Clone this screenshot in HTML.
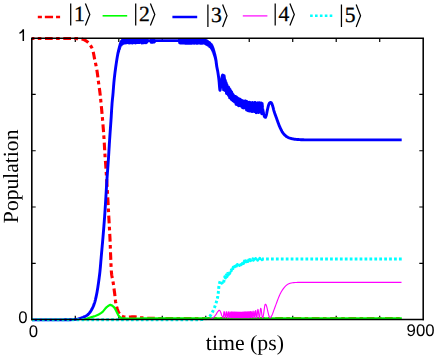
<!DOCTYPE html>
<html><head><meta charset="utf-8"><title>Population</title>
<style>
html,body{margin:0;padding:0;background:#fff;}
body{width:436px;height:358px;overflow:hidden;}
svg{display:block;text-rendering:geometricPrecision;}
.tl text{font-family:"Liberation Sans",sans-serif;}
.kt{font-family:"Liberation Serif",serif;}
.ax{font-family:"Liberation Serif",serif;}

</style></head><body>
<svg width="436" height="358" viewBox="0 0 436 358">
<rect width="436" height="358" fill="#fff"/>
<g fill="none" stroke-linejoin="round">
<path d="M75.29,38.2 v3.9 M75.29,319.55 v-3.9 M118.78,38.2 v3.9 M118.78,319.55 v-3.9 M162.27,38.2 v3.9 M162.27,319.55 v-3.9 M205.76,38.2 v3.9 M205.76,319.55 v-3.9 M249.24,38.2 v3.9 M249.24,319.55 v-3.9 M292.73,38.2 v3.9 M292.73,319.55 v-3.9 M336.22,38.2 v3.9 M336.22,319.55 v-3.9 M379.71,38.2 v3.9 M379.71,319.55 v-3.9 M31.8,94.47 h3.9 M423.2,94.47 h-3.9 M31.8,150.74 h3.9 M423.2,150.74 h-3.9 M31.8,207.01 h3.9 M423.2,207.01 h-3.9 M31.8,263.28 h3.9 M423.2,263.28 h-3.9 " stroke="#000" stroke-width="1.2"/>
<path d="M32.00,38.50 L33.54,38.50 L35.08,38.50 L36.62,38.50 L38.16,38.50 L39.70,38.50 L41.25,38.50 L42.79,38.50 L44.33,38.50 L45.87,38.50 L47.41,38.50 L48.95,38.50 L50.49,38.50 L52.03,38.50 L53.57,38.50 L55.11,38.50 L56.66,38.50 L58.20,38.50 L59.74,38.50 L61.28,38.50 L62.82,38.50 L64.36,38.50 L65.90,38.50 L67.44,38.50 L68.98,38.50 L70.52,38.50 L72.07,38.50 L73.61,38.51 L75.15,38.54 L76.69,38.59 L78.23,38.67 L79.77,38.81 L81.29,39.01 L82.80,39.36 L84.27,39.88 L85.63,40.53 L86.91,41.43 L88.06,42.46 L89.10,43.59 L90.05,44.83 L90.90,46.11 L91.70,47.45 L92.34,48.84 L92.80,50.28 L93.18,51.76 L93.50,53.26 L93.80,54.79 L94.08,56.33 L94.37,57.86 L94.68,59.37 L95.01,60.88 L95.34,62.38 L95.67,63.89 L95.99,65.40 L96.30,66.91 L96.59,68.42 L96.86,69.93 L97.10,71.45 L97.32,72.98 L97.52,74.51 L97.72,76.03 L97.91,77.56 L98.10,79.09 L98.30,80.62 L98.50,82.15 L98.71,83.68 L98.93,85.20 L99.14,86.73 L99.36,88.26 L99.57,89.78 L99.77,91.31 L99.97,92.84 L100.15,94.37 L100.32,95.90 L100.48,97.43 L100.63,98.97 L100.78,100.50 L100.93,102.03 L101.08,103.57 L101.23,105.10 L101.38,106.64 L101.52,108.17 L101.67,109.70 L101.81,111.24 L101.96,112.77 L102.10,114.31 L102.23,115.84 L102.37,117.38 L102.50,118.91 L102.63,120.45 L102.76,121.98 L102.88,123.52 L103.01,125.05 L103.13,126.59 L103.25,128.13 L103.37,129.66 L103.48,131.20 L103.60,132.74 L103.71,134.27 L103.82,135.81 L103.92,137.35 L104.03,138.89 L104.12,140.42 L104.22,141.96 L104.31,143.50 L104.39,145.04 L104.48,146.58 L104.56,148.12 L104.65,149.66 L104.74,151.19 L104.83,152.73 L104.92,154.27 L105.02,155.81 L105.12,157.35 L105.24,158.88 L105.37,160.42 L105.49,161.95 L105.61,163.49 L105.72,165.03 L105.82,166.56 L105.93,168.10 L106.03,169.64 L106.13,171.18 L106.23,172.72 L106.33,174.25 L106.42,175.79 L106.52,177.33 L106.62,178.87 L106.71,180.40 L106.81,181.94 L106.90,183.48 L107.00,185.02 L107.09,186.56 L107.19,188.10 L107.28,189.63 L107.37,191.17 L107.47,192.71 L107.56,194.25 L107.65,195.79 L107.74,197.32 L107.83,198.86 L107.92,200.40 L108.00,201.94 L108.09,203.48 L108.17,205.02 L108.26,206.56 L108.34,208.09 L108.42,209.63 L108.50,211.17 L108.58,212.71 L108.66,214.25 L108.74,215.79 L108.83,217.33 L108.91,218.87 L108.99,220.41 L109.08,221.94 L109.17,223.48 L109.26,225.02 L109.34,226.56 L109.43,228.10 L109.52,229.64 L109.61,231.17 L109.69,232.71 L109.77,234.25 L109.85,235.79 L109.93,237.33 L110.00,238.87 L110.07,240.41 L110.13,241.95 L110.19,243.49 L110.24,245.03 L110.30,246.57 L110.35,248.11 L110.41,249.65 L110.46,251.19 L110.52,252.73 L110.58,254.27 L110.64,255.81 L110.71,257.35 L110.77,258.89 L110.83,260.43 L110.89,261.97 L110.96,263.52 L111.02,265.06 L111.09,266.60 L111.17,268.14 L111.26,269.67 L111.36,271.21 L111.48,272.74 L111.63,274.27 L111.86,275.79 L112.14,277.30 L112.45,278.82 L112.76,280.33 L113.04,281.85 L113.29,283.37 L113.51,284.90 L113.72,286.42 L113.93,287.95 L114.13,289.48 L114.33,291.00 L114.53,292.53 L114.72,294.06 L114.90,295.60 L115.06,297.13 L115.23,298.67 L115.40,300.20 L115.60,301.73 L115.84,303.24 L116.13,304.76 L116.49,306.28 L116.90,307.79 L117.37,309.25 L117.90,310.66 L118.57,312.13 L119.38,313.60 L120.32,314.89 L121.37,315.82 L122.63,316.44 L124.17,316.95 L125.76,317.19 L127.28,317.17 L128.81,317.07 L130.36,316.95 L131.91,316.84 L133.45,316.80 L134.98,316.90 L136.50,317.14 L138.03,317.42 L139.56,317.66 L141.09,317.79 L142.62,317.91 L144.16,318.02 L145.70,318.12 L147.24,318.20 L148.78,318.27 L150.32,318.31 L151.86,318.34 L153.40,318.37 L154.94,318.40 L156.48,318.43 L158.02,318.45 L159.57,318.47 L161.11,318.48 L162.65,318.49 L164.19,318.50 L165.73,318.50 L167.27,318.50 L168.81,318.50 L170.35,318.50 L171.89,318.50 L173.44,318.50 L174.98,318.50 L176.52,318.50 L178.06,318.50 L179.60,318.50 L181.14,318.50 L182.68,318.50 L184.22,318.50 L185.76,318.50 L187.30,318.50 L188.85,318.50 L190.39,318.50 L191.93,318.50 L193.47,318.50 L195.01,318.50 L196.55,318.50 L198.09,318.50 L199.63,318.50 L201.17,318.50 L202.71,318.50 L204.26,318.50 L205.80,318.50 L207.34,318.50 L208.88,318.50 L210.42,318.50 L211.96,318.50 L213.50,318.50 L215.04,318.50 L216.58,318.50 L218.12,318.50 L219.66,318.50 L221.21,318.50 L222.75,318.50 L224.29,318.50 L225.83,318.50 L227.37,318.50 L228.91,318.50 L230.45,318.50 L231.99,318.50 L233.53,318.50 L235.07,318.50 L236.62,318.50 L238.16,318.50 L239.70,318.50 L241.24,318.50 L242.78,318.50 L244.32,318.50 L245.86,318.50 L247.40,318.50 L248.94,318.50 L250.48,318.50 L252.03,318.50 L253.57,318.50 L255.11,318.50 L256.65,318.50 L258.19,318.50 L259.73,318.50 L261.27,318.50 L262.81,318.50 L264.35,318.50 L265.89,318.50 L267.44,318.50 L268.98,318.50 L270.52,318.50 L272.06,318.50 L273.60,318.50 L275.14,318.50 L276.68,318.50 L278.22,318.50 L279.76,318.50 L281.30,318.50 L282.84,318.50 L284.39,318.50 L285.93,318.50 L287.47,318.50 L289.01,318.50 L290.55,318.50 L292.09,318.50 L293.63,318.50 L295.17,318.50 L296.71,318.50 L298.25,318.50 L299.80,318.50 L301.34,318.50 L302.88,318.50 L304.42,318.50 L305.96,318.50 L307.50,318.50 L309.04,318.50 L310.58,318.50 L312.12,318.50 L313.66,318.50 L315.21,318.50 L316.75,318.50 L318.29,318.50 L319.83,318.50 L321.37,318.50 L322.91,318.50 L324.45,318.50 L325.99,318.50 L327.53,318.50 L329.07,318.50 L330.62,318.50 L332.16,318.50 L333.70,318.50 L335.24,318.50 L336.78,318.50 L338.32,318.50 L339.86,318.50 L341.40,318.50 L342.94,318.50 L344.48,318.50 L346.02,318.50 L347.57,318.50 L349.11,318.50 L350.65,318.50 L352.19,318.50 L353.73,318.50 L355.27,318.50 L356.81,318.50 L358.35,318.50 L359.89,318.50 L361.43,318.50 L362.98,318.50 L364.52,318.50 L366.06,318.50 L367.60,318.50 L369.14,318.50 L370.68,318.50 L372.22,318.50 L373.76,318.50 L375.30,318.50 L376.84,318.50 L378.39,318.50 L379.93,318.50 L381.47,318.50 L383.01,318.50 L384.55,318.50 L386.09,318.50 L387.63,318.50 L389.17,318.50 L390.71,318.50 L392.25,318.50 L393.80,318.50 L395.34,318.50 L396.88,318.50 L398.42,318.50 L399.96,318.50 L401.50,318.50" stroke="#f00" stroke-width="3.1" stroke-dasharray="7.7 3.4 3.6 3.6" stroke-dashoffset="5.3"/>
<path d="M32.00,319.85 L33.60,319.85 L35.21,319.85 L36.81,319.85 L38.41,319.85 L40.01,319.85 L41.62,319.85 L43.22,319.85 L44.82,319.85 L46.42,319.85 L48.03,319.85 L49.63,319.85 L51.23,319.85 L52.83,319.85 L54.44,319.85 L56.04,319.85 L57.64,319.85 L59.24,319.85 L60.85,319.85 L62.45,319.84 L64.05,319.82 L65.66,319.80 L67.26,319.77 L68.86,319.73 L70.46,319.69 L72.07,319.61 L73.67,319.49 L75.27,319.34 L76.85,319.15 L78.42,318.83 L79.97,318.39 L81.50,317.88 L83.00,317.33 L84.53,316.70 L85.99,315.97 L87.31,315.14 L88.46,314.14 L89.52,312.90 L90.48,311.55 L91.32,310.19 L92.09,308.80 L92.80,307.35 L93.45,305.87 L94.04,304.36 L94.55,302.85 L95.00,301.32 L95.41,299.78 L95.79,298.21 L96.14,296.64 L96.47,295.06 L96.78,293.49 L97.07,291.92 L97.35,290.34 L97.61,288.76 L97.86,287.17 L98.10,285.59 L98.33,284.00 L98.55,282.41 L98.78,280.83 L98.99,279.24 L99.20,277.65 L99.41,276.06 L99.60,274.47 L99.79,272.88 L99.96,271.28 L100.12,269.69 L100.27,268.10 L100.42,266.50 L100.55,264.90 L100.69,263.31 L100.82,261.71 L100.95,260.11 L101.09,258.51 L101.23,256.92 L101.37,255.32 L101.51,253.72 L101.65,252.13 L101.80,250.53 L101.94,248.94 L102.09,247.34 L102.23,245.74 L102.38,244.15 L102.52,242.55 L102.66,240.95 L102.80,239.36 L102.94,237.76 L103.07,236.16 L103.20,234.57 L103.34,232.97 L103.47,231.37 L103.60,229.78 L103.73,228.18 L103.86,226.58 L103.98,224.98 L104.11,223.38 L104.23,221.79 L104.35,220.19 L104.47,218.59 L104.59,216.99 L104.70,215.39 L104.81,213.80 L104.92,212.20 L105.03,210.60 L105.14,209.00 L105.24,207.40 L105.34,205.80 L105.45,204.20 L105.55,202.60 L105.65,201.00 L105.75,199.40 L105.85,197.80 L105.94,196.20 L106.04,194.60 L106.13,193.00 L106.22,191.40 L106.31,189.80 L106.41,188.20 L106.50,186.60 L106.59,185.00 L106.69,183.40 L106.79,181.80 L106.89,180.20 L107.00,178.61 L107.11,177.01 L107.23,175.41 L107.34,173.81 L107.46,172.21 L107.58,170.61 L107.70,169.02 L107.82,167.42 L107.94,165.82 L108.06,164.22 L108.17,162.62 L108.28,161.02 L108.39,159.42 L108.50,157.82 L108.60,156.23 L108.70,154.63 L108.80,153.03 L108.89,151.43 L108.99,149.83 L109.09,148.23 L109.19,146.63 L109.28,145.03 L109.38,143.43 L109.48,141.83 L109.59,140.23 L109.69,138.63 L109.80,137.03 L109.91,135.43 L110.02,133.83 L110.14,132.24 L110.25,130.64 L110.37,129.04 L110.48,127.44 L110.60,125.84 L110.71,124.24 L110.82,122.64 L110.94,121.05 L111.04,119.45 L111.15,117.85 L111.25,116.25 L111.34,114.65 L111.44,113.05 L111.53,111.45 L111.63,109.85 L111.73,108.25 L111.84,106.65 L111.95,105.05 L112.06,103.45 L112.19,101.85 L112.33,100.26 L112.50,98.66 L112.67,97.07 L112.84,95.48 L112.98,93.88 L113.12,92.28 L113.24,90.69 L113.37,89.09 L113.49,87.49 L113.61,85.89 L113.74,84.29 L113.88,82.70 L114.03,81.10 L114.19,79.51 L114.36,77.92 L114.54,76.32 L114.73,74.73 L114.93,73.14 L115.13,71.55 L115.34,69.96 L115.55,68.37 L115.77,66.78 L115.99,65.20 L116.23,63.61 L116.47,62.03 L116.71,60.44 L116.97,58.86 L117.23,57.28 L117.50,55.70 L117.50,55.51 L117.55,55.63 L117.60,54.87 L117.66,55.03 L117.71,54.27 L117.77,54.54 L117.83,53.66 L117.89,53.99 L117.96,52.94 L118.02,53.42 L118.09,52.37 L118.16,52.85 L118.23,51.74 L118.30,52.35 L118.37,51.06 L118.45,51.84 L118.52,50.33 L118.60,51.37 L118.68,49.76 L118.76,50.90 L118.84,49.22 L118.92,50.19 L119.00,48.48 L119.08,49.64 L119.17,48.00 L119.25,49.26 L119.33,47.25 L119.42,48.87 L119.51,46.55 L119.59,48.24 L119.68,45.95 L119.77,47.62 L119.86,45.46 L119.95,47.08 L120.05,44.56 L120.15,46.57 L120.25,44.03 L120.36,45.99 L120.48,43.19 L120.59,45.59 L120.72,42.81 L120.85,45.51 L120.99,42.09 L121.15,45.12 L121.32,41.39 L121.51,44.71 L121.71,41.14 L121.93,44.12 L122.16,40.47 L122.40,43.93 L122.64,40.25 L122.90,43.54 L123.18,40.21 L123.47,43.23 L123.78,39.92 L124.00,40.25 L124.40,42.86 L124.80,40.08 L125.20,42.99 L125.60,39.91 L126.00,42.70 L126.40,39.88 L126.80,42.75 L127.20,40.25 L127.60,42.57 L128.00,40.18 L128.40,42.54 L128.80,40.30 L129.20,42.98 L129.60,40.20 L130.00,42.75 L130.40,40.14 L130.80,42.91 L131.20,39.86 L131.60,42.33 L132.00,39.72 L132.40,42.96 L132.80,39.67 L133.20,42.67 L133.60,40.26 L134.00,42.38 L134.40,39.65 L134.80,42.66 L135.20,40.23 L135.60,42.92 L136.00,39.87 L136.40,42.67 L136.80,40.08 L137.20,42.55 L137.60,40.18 L138.00,42.26 L138.40,39.69 L138.80,42.59 L139.20,39.95 L139.60,42.48 L140.00,39.79 L140.40,42.25 L140.80,40.08 L141.20,42.25 L141.60,40.27 L142.00,42.98 L142.40,39.86 L142.80,42.56 L143.20,39.96 L143.60,42.91 L144.00,40.10 L144.40,42.69 L144.80,39.84 L145.20,42.51 L145.60,39.97 L146.00,42.82 L146.40,39.67 L146.80,42.35 L147.20,39.65 L147.50,40.70 L150.60,40.70 L150.80,40.35 L151.20,42.24 L151.60,39.72 L152.00,41.76 L152.40,40.02 L152.80,42.29 L153.20,40.34 L153.60,42.14 L154.00,39.73 L154.40,42.05 L155.00,40.60 L179.00,40.60 L179.30,39.77 L179.70,42.88 L180.10,40.14 L180.50,42.98 L180.90,40.15 L181.30,42.97 L181.70,39.61 L182.10,43.13 L182.50,40.04 L182.90,42.92 L183.30,39.61 L183.70,43.04 L184.10,39.59 L184.50,43.09 L184.90,39.91 L185.30,43.35 L185.70,39.76 L186.10,43.13 L186.50,39.98 L186.90,43.34 L187.30,39.99 L187.70,43.37 L188.10,40.23 L188.50,43.03 L188.90,39.91 L189.30,43.39 L189.70,40.10 L190.10,43.29 L190.50,39.80 L190.90,43.23 L191.30,39.83 L191.70,43.41 L192.10,40.04 L192.50,43.00 L192.90,40.13 L193.30,42.76 L193.70,40.13 L194.10,43.37 L194.50,39.69 L194.90,42.80 L195.30,39.85 L195.70,43.06 L196.10,39.86 L196.50,43.19 L196.90,40.06 L197.30,43.40 L197.70,39.95 L198.10,43.16 L198.50,39.83 L198.90,42.85 L199.30,40.23 L199.70,43.01 L200.10,39.74 L200.50,43.30 L200.90,39.76 L201.30,42.80 L201.70,39.64 L202.10,43.29 L202.50,39.66 L202.90,43.09 L203.30,39.63 L203.70,42.76 L204.00,40.06 L204.29,43.01 L204.59,40.09 L204.87,43.32 L205.16,40.32 L205.44,43.71 L205.71,40.63 L205.98,43.95 L206.25,40.80 L206.51,44.27 L206.77,41.17 L207.02,44.37 L207.28,40.97 L207.53,44.84 L207.77,41.39 L208.02,45.26 L208.27,41.86 L208.51,45.34 L208.76,42.23 L209.00,45.60 L209.25,42.45 L209.49,46.48 L209.73,42.79 L209.96,46.34 L210.18,43.47 L210.39,46.90 L210.60,44.02 L210.80,47.51 L211.00,44.08 L211.19,47.81 L211.37,44.53 L211.53,48.57 L211.69,45.44 L211.83,49.06 L211.98,45.53 L212.12,49.26 L212.25,46.24 L212.38,50.05 L212.51,46.77 L212.63,50.26 L212.75,47.37 L212.87,51.05 L212.98,47.92 L213.09,51.63 L213.19,48.81 L213.30,52.08 L213.39,49.17 L213.49,52.66 L213.59,50.12 L213.69,52.77 L213.78,50.52 L213.87,53.37 L213.97,51.19 L214.06,54.20 L214.15,51.89 L214.24,54.43 L214.33,52.48 L214.41,55.11 L214.50,53.24 L214.58,55.54 L214.67,53.86 L214.75,56.17 L214.83,54.24 L214.91,56.61 L214.98,55.03 L215.06,57.20 L215.13,55.70 L215.21,57.65 L215.28,56.29 L215.35,58.26 L215.41,56.99 L215.48,58.88 L215.54,57.48 L215.61,59.31 L215.67,58.23 L215.73,59.98 L215.78,58.83 L215.84,60.38 L215.89,59.45 L215.94,60.93 L215.99,59.89 L216.04,61.54 L216.08,60.64 L216.12,62.23 L216.16,61.19 L216.20,62.67 L216.24,61.85 L216.27,63.38 L216.31,62.48 L216.34,63.92 L216.38,63.15 L216.41,64.49 L216.45,63.64 L216.49,65.08 L216.53,64.28 L216.57,65.58 L216.61,65.00 L216.65,66.17 L216.70,65.51 L216.75,66.69 L216.80,66.20 L216.85,67.30 L216.90,66.76 L216.96,67.90 L217.01,67.46 L217.07,68.37 L217.13,68.01 L217.19,68.97 L217.25,68.64 L217.31,69.56 L217.37,69.25 L217.43,70.09 L217.50,69.89 L217.56,70.60 L217.60,70.60 L217.70,71.19 L217.80,71.79 L217.89,72.38 L217.99,72.97 L218.08,73.57 L218.17,74.16 L218.26,74.76 L218.34,75.35 L218.42,75.94 L218.51,76.54 L218.59,77.13 L218.66,77.73 L218.74,78.33 L218.81,78.92 L218.88,79.52 L218.95,80.11 L219.01,80.71 L219.07,81.31 L219.13,81.91 L219.18,82.50 L219.22,83.10 L219.27,83.70 L219.32,84.30 L219.36,84.90 L219.41,85.50 L219.46,86.10 L219.51,86.70 L219.57,87.29 L219.63,87.89 L219.70,88.49 L219.78,89.21 L219.88,89.94 L219.99,90.30 L220.12,90.02 L220.26,89.32 L220.39,88.58 L220.49,87.99 L220.58,87.40 L220.67,86.80 L220.75,86.21 L220.82,85.61 L220.89,85.01 L220.96,84.42 L221.03,83.82 L221.10,83.22 L221.17,82.62 L221.24,82.03 L221.32,81.43 L221.40,80.84 L221.48,80.24 L221.58,79.65 L221.67,79.06 L221.77,78.46 L221.87,77.86 L221.98,77.26 L222.10,76.67 L222.25,76.10 L222.42,75.54 L222.70,75.00 L223.15,82.00 L223.60,89.80 L223.85,82.00 L224.10,75.60 L224.50,78.60 L224.90,90.55 L225.30,80.34 L225.70,90.77 L226.10,82.43 L226.50,93.49 L226.90,84.56 L227.30,93.56 L227.70,86.51 L228.10,94.69 L228.50,86.88 L228.90,96.02 L229.30,88.53 L229.70,97.92 L230.10,89.47 L230.50,97.90 L230.90,90.88 L231.30,99.32 L231.70,91.96 L232.10,100.03 L232.50,93.59 L232.90,100.73 L233.30,94.63 L233.70,101.20 L234.10,95.97 L234.50,101.98 L234.90,96.47 L235.30,101.67 L235.70,96.71 L236.10,104.35 L236.50,96.94 L236.90,104.63 L237.30,97.80 L237.70,104.43 L238.10,98.72 L238.50,105.75 L238.90,99.00 L239.30,105.18 L239.70,99.01 L240.10,105.63 L240.50,100.27 L240.90,106.08 L241.30,99.88 L241.70,105.61 L242.10,100.40 L242.50,107.66 L242.90,100.90 L243.30,107.98 L243.70,101.14 L244.10,106.87 L244.50,101.97 L244.90,107.60 L245.30,101.06 L245.70,108.34 L246.10,101.23 L246.50,109.94 L246.90,101.53 L247.30,109.40 L247.70,102.52 L248.10,110.78 L248.50,102.37 L248.90,110.33 L249.30,102.18 L249.70,111.06 L250.10,102.46 L250.50,110.14 L250.90,103.08 L251.30,111.05 L251.70,103.48 L252.10,111.62 L252.50,102.49 L252.90,111.32 L253.30,103.18 L253.70,111.33 L254.10,103.00 L254.50,111.64 L254.90,102.49 L255.30,111.81 L255.70,102.70 L256.10,112.70 L256.50,104.65 L256.90,112.22 L257.30,103.14 L257.70,111.61 L258.10,102.71 L258.50,112.60 L258.90,103.37 L259.30,111.64 L259.70,102.76 L260.10,111.58 L260.50,103.41 L260.90,112.23 L261.30,102.91 L261.70,113.72 L262.10,103.47 L262.50,107.50 L262.67,108.70 L262.88,109.90 L263.10,111.10 L263.34,112.28 L263.60,113.47 L263.86,114.70 L264.17,115.88 L264.66,116.97 L265.47,117.30 L266.02,116.09 L266.37,114.96 L266.65,113.78 L266.89,112.58 L267.11,111.36 L267.34,110.15 L267.61,108.96 L267.89,107.77 L268.17,106.57 L268.48,105.40 L268.87,104.27 L269.42,103.12 L270.36,102.44 L271.43,102.92 L271.99,103.92 L272.38,105.13 L272.75,106.29 L273.08,107.46 L273.38,108.64 L273.68,109.82 L274.01,110.99 L274.37,112.14 L274.74,113.30 L275.14,114.44 L275.55,115.59 L275.96,116.73 L276.38,117.87 L276.80,119.01 L277.21,120.16 L277.62,121.30 L278.02,122.45 L278.44,123.60 L278.87,124.73 L279.32,125.86 L279.79,126.97 L280.30,128.07 L280.83,129.19 L281.38,130.30 L281.97,131.38 L282.60,132.42 L283.28,133.39 L284.03,134.30 L284.88,135.20 L285.82,136.04 L286.82,136.76 L287.84,137.31 L288.93,137.77 L290.08,138.18 L291.28,138.53 L292.49,138.82 L293.68,139.03 L294.87,139.19 L296.08,139.34 L297.29,139.46 L298.51,139.56 L299.72,139.64 L300.93,139.69 L302.15,139.75 L303.36,139.80 L304.57,139.84 L305.79,139.87 L307.00,139.89 L308.22,139.90 L309.43,139.90 L310.64,139.90 L311.86,139.90 L313.07,139.90 L314.29,139.90 L315.50,139.90 L316.71,139.90 L317.93,139.90 L319.14,139.90 L320.36,139.90 L321.57,139.90 L322.78,139.90 L324.00,139.90 L325.21,139.90 L326.43,139.90 L327.64,139.90 L328.85,139.90 L330.07,139.90 L331.28,139.90 L332.50,139.90 L333.71,139.90 L334.92,139.90 L336.14,139.90 L337.35,139.90 L338.57,139.90 L339.78,139.90 L341.00,139.90 L342.21,139.90 L343.42,139.90 L344.64,139.90 L345.85,139.90 L347.07,139.90 L348.28,139.90 L349.49,139.90 L350.71,139.90 L351.92,139.90 L353.14,139.90 L354.35,139.90 L355.57,139.90 L356.78,139.90 L357.99,139.90 L359.21,139.90 L360.42,139.90 L361.64,139.90 L362.85,139.90 L364.06,139.90 L365.28,139.90 L366.49,139.90 L367.71,139.90 L368.92,139.90 L370.13,139.90 L371.35,139.90 L372.56,139.90 L373.78,139.90 L374.99,139.90 L376.20,139.90 L377.42,139.90 L378.63,139.90 L379.85,139.90 L381.06,139.90 L382.27,139.90 L383.49,139.90 L384.70,139.90 L385.92,139.90 L387.13,139.90 L388.35,139.90 L389.56,139.90 L390.77,139.90 L391.99,139.90 L393.20,139.90 L394.42,139.90 L395.63,139.90 L396.84,139.90 L398.06,139.90 L399.27,139.90 L400.49,139.90 L401.70,139.90" stroke="#00f" stroke-width="2.9" stroke-linejoin="round"/>
<path d="M32.00,319.85 L33.35,319.85 L34.69,319.85 L36.04,319.85 L37.38,319.85 L38.73,319.85 L40.07,319.85 L41.42,319.85 L42.77,319.85 L44.11,319.85 L45.46,319.85 L46.80,319.85 L48.15,319.85 L49.49,319.85 L50.84,319.85 L52.18,319.85 L53.53,319.85 L54.88,319.85 L56.22,319.85 L57.57,319.85 L58.91,319.85 L60.26,319.85 L61.60,319.85 L62.95,319.85 L64.29,319.85 L65.64,319.85 L66.99,319.85 L68.33,319.85 L69.68,319.85 L71.02,319.85 L72.37,319.85 L73.71,319.85 L75.06,319.85 L76.40,319.85 L77.75,319.85 L79.09,319.85 L80.44,319.85 L81.79,319.85 L83.13,319.85 L84.48,319.85 L85.82,319.85 L87.17,319.85 L88.51,319.85 L89.86,319.85 L91.20,319.85 L92.55,319.85 L93.89,319.85 L95.24,319.85 L96.59,319.85 L97.93,319.85 L99.28,319.85 L100.62,319.85 L101.97,319.85 L103.31,319.85 L104.66,319.85 L106.00,319.85 L107.35,319.85 L108.69,319.85 L110.04,319.85 L111.38,319.85 L112.73,319.85 L114.08,319.85 L115.42,319.85 L116.77,319.85 L118.11,319.85 L119.46,319.85 L120.80,319.85 L122.15,319.85 L123.49,319.85 L124.84,319.85 L126.18,319.85 L127.53,319.85 L128.87,319.85 L130.22,319.85 L131.56,319.85 L132.91,319.85 L134.26,319.85 L135.60,319.85 L136.95,319.85 L138.29,319.85 L139.64,319.85 L140.98,319.85 L142.33,319.85 L143.67,319.85 L145.02,319.85 L146.36,319.85 L147.71,319.85 L149.05,319.85 L150.40,319.85 L151.74,319.85 L153.09,319.85 L154.43,319.85 L155.78,319.85 L157.13,319.85 L158.47,319.85 L159.82,319.85 L161.16,319.85 L162.51,319.85 L163.85,319.85 L165.20,319.85 L166.54,319.85 L167.89,319.85 L169.23,319.85 L170.58,319.85 L171.92,319.85 L173.27,319.85 L174.61,319.85 L175.96,319.85 L177.30,319.85 L178.65,319.85 L179.99,319.85 L181.34,319.85 L182.68,319.85 L184.03,319.85 L185.37,319.85 L186.72,319.85 L188.07,319.85 L189.41,319.85 L190.76,319.85 L192.11,319.84 L193.46,319.83 L194.82,319.81 L196.17,319.79 L197.52,319.76 L198.86,319.72 L200.20,319.67 L201.53,319.62 L202.85,319.52 L204.19,319.23 L205.50,318.81 L206.74,318.31 L207.92,317.72 L209.04,316.91 L210.04,315.98 L210.86,314.99 L211.58,313.85 L212.22,312.63 L212.81,311.40 L213.38,310.18 L213.91,308.95 L214.42,307.70 L214.90,306.43 L215.35,305.16 L215.77,303.89 L216.18,302.61 L216.58,301.32 L216.96,300.02 L217.29,298.72 L217.58,297.41 L217.82,296.09 L218.02,294.76 L218.20,293.42 L218.37,292.08 L218.51,290.74 L218.62,289.40 L218.73,288.06 L218.87,286.72 L219.07,285.39 L219.33,284.07 L219.67,282.75 L220.16,281.18 L220.75,280.69 L221.44,282.02 L222.22,283.39 L222.95,284.39 L223.37,283.64 L223.69,281.99 L224.01,280.63 L224.32,279.32 L224.60,278.00 L224.80,276.84 L225.50,277.89 L226.20,274.98 L226.90,276.60 L227.60,273.46 L228.30,274.93 L229.00,272.29 L229.70,273.46 L230.40,270.12 L231.10,270.95 L231.80,268.64 L232.50,270.13 L233.20,267.25 L233.90,268.64 L234.60,266.46 L235.30,268.11 L236.00,265.70 L236.70,267.54 L237.40,264.51 L238.10,266.14 L238.80,264.08 L239.50,265.42 L240.20,262.82 L240.90,264.74 L241.60,262.10 L242.30,263.95 L243.00,261.67 L243.70,263.38 L244.40,261.12 L245.10,262.33 L245.80,260.78 L246.50,261.79 L247.20,260.06 L247.90,261.45 L248.60,260.08 L249.30,261.07 L250.00,259.51 L250.70,260.58 L251.40,259.33 L252.10,260.25 L252.80,258.94 L253.50,260.19 L254.20,258.79 L254.90,260.00 L255.60,258.60 L256.30,259.84 L257.00,258.40 L257.70,260.08 L258.40,258.51 L259.10,259.83 L259.80,258.31 L260.50,259.71 L261.20,258.30 L261.90,259.70 L262.00,259.10" stroke="#0ff" stroke-width="3" stroke-dasharray="2.7 2.25"/>
<path d="M262.00,259.10 L402.00,259.10" stroke="#0ff" stroke-width="3" stroke-dasharray="2.75 2.172" stroke-dashoffset="0.85"/>
<path d="M84.21,319.35 L85.45,319.10 L86.67,318.74 L87.88,318.30 L89.09,317.89 L90.31,317.52 L91.53,317.16 L92.74,316.78 L93.96,316.38 L95.17,315.97 L96.36,315.52 L97.52,315.01 L98.67,314.44 L99.81,313.82 L100.90,313.15 L101.93,312.42 L102.85,311.60 L103.68,310.64 L104.48,309.62 L105.28,308.60 L106.14,307.66 L107.08,306.79 L108.09,305.99 L109.17,305.32 L110.36,304.90 L111.59,305.30 L112.66,305.94 L113.63,306.83 L114.45,307.79 L115.12,308.83 L115.71,309.95 L116.27,311.13 L116.82,312.30 L117.43,313.43 L118.03,314.61 L118.66,315.76 L119.40,316.70 L120.39,317.54 L121.56,318.21 L122.75,318.41 L123.98,318.44 L125.24,318.47 L126.54,318.48 L127.84,318.49 L129.14,318.50 L130.42,318.50 L131.70,318.50 L132.97,318.50 L134.25,318.49 L135.52,318.49 L136.79,318.49 L138.07,318.48 L139.34,318.48 L140.62,318.47 L141.89,318.47 L143.16,318.46 L144.44,318.45 L145.71,318.45 L146.99,318.44 L148.26,318.43 L149.54,318.43 L150.81,318.42 L152.08,318.42 L153.36,318.41 L154.63,318.41 L155.91,318.41 L157.18,318.40 L158.45,318.40 L159.73,318.40 L161.00,318.40 L162.28,318.40 L163.55,318.40 L164.82,318.40 L166.10,318.40 L167.37,318.40 L168.65,318.40 L169.92,318.40 L171.19,318.40 L172.47,318.40 L173.74,318.40 L175.02,318.40 L176.29,318.40 L177.56,318.40 L178.84,318.40 L180.11,318.40 L181.39,318.40 L182.66,318.40 L183.93,318.40 L185.21,318.40 L186.48,318.40 L187.76,318.40 L189.03,318.40 L190.31,318.40 L191.58,318.40 L192.85,318.40 L194.13,318.40 L195.40,318.40 L196.68,318.40 L197.95,318.40 L199.22,318.40 L200.50,318.40 L201.77,318.40 L203.05,318.40 L204.32,318.40 L205.59,318.40 L206.87,318.40 L208.14,318.40 L209.42,318.40 L210.69,318.40 L211.96,318.40 L213.24,318.40 L214.51,318.40 L215.79,318.40 L217.06,318.40 L218.33,318.40 L219.61,318.40 L220.88,318.40 L222.16,318.40 L223.43,318.40 L224.70,318.40 L225.98,318.40 L227.25,318.40 L228.53,318.40 L229.80,318.40 L231.08,318.40 L232.35,318.40 L233.62,318.40 L234.90,318.40 L236.17,318.40 L237.45,318.40 L238.72,318.40 L239.99,318.40 L241.27,318.40 L242.54,318.40 L243.82,318.40 L245.09,318.40 L246.36,318.40 L247.64,318.40 L248.91,318.40 L250.19,318.40 L251.46,318.40 L252.73,318.40 L254.01,318.40 L255.28,318.40 L256.56,318.40 L257.83,318.40 L259.10,318.40 L260.38,318.40 L261.65,318.40 L262.93,318.40 L264.20,318.40 L265.48,318.40 L266.75,318.40 L268.02,318.40 L269.30,318.40 L270.57,318.40 L271.85,318.40 L273.12,318.40 L274.39,318.40 L275.67,318.40 L276.94,318.40 L278.22,318.40 L279.49,318.40 L280.76,318.40 L282.04,318.40 L283.31,318.40 L284.59,318.40 L285.86,318.40 L287.13,318.40 L288.41,318.40 L289.68,318.40 L290.96,318.40 L292.23,318.40 L293.50,318.40 L294.78,318.40 L296.05,318.40 L297.33,318.40 L298.60,318.40 L299.87,318.40 L301.15,318.40 L302.42,318.40 L303.70,318.40 L304.97,318.40 L306.25,318.40 L307.52,318.40 L308.79,318.40 L310.07,318.40 L311.34,318.40 L312.62,318.40 L313.89,318.40 L315.16,318.40 L316.44,318.40 L317.71,318.40 L318.99,318.40 L320.26,318.40 L321.53,318.40 L322.81,318.40 L324.08,318.40 L325.36,318.40 L326.63,318.40 L327.90,318.40 L329.18,318.40 L330.45,318.40 L331.73,318.40 L333.00,318.40 L334.27,318.40 L335.55,318.40 L336.82,318.40 L338.10,318.40 L339.37,318.40 L340.64,318.40 L341.92,318.40 L343.19,318.40 L344.47,318.40 L345.74,318.40 L347.02,318.40 L348.29,318.40 L349.56,318.40 L350.84,318.40 L352.11,318.40 L353.39,318.40 L354.66,318.40 L355.93,318.40 L357.21,318.40 L358.48,318.40 L359.76,318.40 L361.03,318.40 L362.30,318.40 L363.58,318.40 L364.85,318.40 L366.13,318.40 L367.40,318.40 L368.67,318.40 L369.95,318.40 L371.22,318.40 L372.50,318.40 L373.77,318.40 L375.04,318.40 L376.32,318.40 L377.59,318.40 L378.87,318.40 L380.14,318.40 L381.41,318.40 L382.69,318.40 L383.96,318.40 L385.24,318.40 L386.51,318.40 L387.79,318.40 L389.06,318.40 L390.33,318.40 L391.61,318.40 L392.88,318.40 L394.16,318.40 L395.43,318.40 L396.70,318.40 L397.98,318.40 L399.25,318.40 L400.53,318.40 L401.80,318.40" stroke="#0f0" stroke-width="2.2"/>
<path d="M206.68,319.54 L207.58,319.45 L208.48,319.36 L209.37,319.25 L210.27,319.04 L211.16,318.75 L211.98,318.41 L212.72,317.98 L213.43,317.43 L214.11,316.78 L214.75,316.08 L215.35,315.36 L215.92,314.65 L216.41,313.89 L216.86,313.08 L217.31,312.27 L217.81,311.52 L218.45,310.80 L219.17,310.22 L219.78,310.53 L220.32,311.45 L220.72,312.28 L221.01,313.15 L221.27,314.04 L221.55,314.91 L221.92,315.73 L222.42,316.48 L223.00,317.20 L223.00,317.90 L223.13,317.71 L223.26,317.17 L223.38,316.33 L223.51,315.31 L223.64,314.22 L223.77,313.20 L223.90,312.37 L224.02,311.83 L224.15,311.64 L224.28,311.83 L224.41,312.37 L224.53,313.20 L224.66,314.22 L224.79,315.31 L224.92,316.33 L225.05,317.17 L225.17,317.71 L225.30,317.90 L225.43,317.66 L225.56,316.99 L225.69,315.99 L225.82,314.80 L225.95,313.62 L226.08,312.61 L226.21,311.94 L226.34,311.70 L226.47,311.94 L226.60,312.61 L226.73,313.62 L226.86,314.80 L226.99,315.99 L227.12,316.99 L227.25,317.66 L227.38,317.90 L227.51,317.60 L227.64,316.74 L227.77,315.51 L227.90,314.14 L228.03,312.91 L228.16,312.06 L228.29,311.76 L228.41,312.06 L228.54,312.91 L228.67,314.14 L228.80,315.51 L228.93,316.74 L229.06,317.60 L229.19,317.90 L229.32,317.49 L229.45,316.37 L229.57,314.85 L229.70,313.32 L229.83,312.21 L229.96,311.80 L230.09,312.21 L230.22,313.32 L230.34,314.85 L230.47,316.37 L230.60,317.49 L230.73,317.90 L230.87,317.32 L231.01,315.80 L231.15,313.93 L231.29,312.41 L231.42,311.84 L231.56,312.41 L231.70,313.93 L231.84,315.80 L231.98,317.32 L232.12,317.90 L232.25,317.32 L232.38,315.82 L232.51,313.95 L232.63,312.45 L232.76,311.87 L232.89,312.45 L233.02,313.95 L233.15,315.82 L233.28,317.32 L233.41,317.90 L233.53,317.33 L233.65,315.83 L233.77,313.98 L233.89,312.48 L234.02,311.91 L234.14,312.48 L234.26,313.98 L234.38,315.83 L234.50,317.33 L234.63,317.90 L234.77,317.03 L234.92,314.92 L235.07,312.81 L235.22,311.93 L235.37,312.81 L235.52,314.92 L235.66,317.03 L235.81,317.90 L235.96,317.03 L236.10,314.93 L236.25,312.83 L236.39,311.96 L236.54,312.83 L236.69,314.93 L236.83,317.03 L236.98,317.90 L237.12,317.03 L237.26,314.94 L237.40,312.85 L237.55,311.98 L237.69,312.85 L237.83,314.94 L237.98,317.03 L238.12,317.90 L238.26,317.04 L238.40,314.95 L238.54,312.86 L238.69,311.99 L238.83,312.86 L238.97,314.95 L239.11,317.04 L239.25,317.90 L239.39,317.04 L239.53,314.95 L239.67,312.86 L239.81,312.00 L239.95,312.86 L240.09,314.95 L240.23,317.04 L240.37,317.90 L240.51,317.03 L240.65,314.95 L240.79,312.86 L240.93,311.99 L241.07,312.86 L241.21,314.95 L241.35,317.03 L241.49,317.90 L241.63,317.03 L241.78,314.93 L241.92,312.84 L242.06,311.97 L242.20,312.84 L242.34,314.93 L242.48,317.03 L242.62,317.90 L242.76,317.03 L242.91,314.92 L243.05,312.80 L243.19,311.93 L243.33,312.80 L243.47,314.92 L243.62,317.03 L243.76,317.90 L243.90,317.02 L244.05,314.89 L244.19,312.76 L244.34,311.88 L244.48,312.76 L244.63,314.89 L244.77,317.02 L244.92,317.90 L245.06,317.01 L245.21,314.86 L245.36,312.71 L245.50,311.81 L245.65,312.71 L245.80,314.86 L245.95,317.01 L246.09,317.90 L246.21,317.31 L246.33,315.77 L246.45,313.87 L246.57,312.33 L246.69,311.74 L246.81,312.33 L246.93,313.87 L247.06,315.77 L247.18,317.31 L247.30,317.90 L247.42,317.30 L247.54,315.75 L247.67,313.82 L247.79,312.26 L247.92,311.67 L248.04,312.26 L248.17,313.82 L248.29,315.75 L248.42,317.30 L248.54,317.90 L248.67,317.30 L248.80,315.72 L248.93,313.77 L249.06,312.19 L249.19,311.59 L249.33,312.19 L249.46,313.77 L249.59,315.72 L249.72,317.30 L249.85,317.90 L249.97,317.47 L250.10,316.30 L250.22,314.70 L250.35,313.10 L250.47,311.93 L250.60,311.50 L250.72,311.93 L250.85,313.10 L250.97,314.70 L251.10,316.30 L251.22,317.47 L251.35,317.90 L251.47,317.46 L251.60,316.27 L251.72,314.65 L251.85,313.02 L251.97,311.84 L252.10,311.40 L252.23,311.72 L252.36,312.62 L252.49,313.93 L252.61,315.37 L252.74,316.68 L252.87,317.58 L253.00,317.90 L253.13,317.57 L253.26,316.64 L253.39,315.30 L253.51,313.80 L253.64,312.46 L253.77,311.53 L253.90,311.20 L254.03,311.53 L254.16,312.46 L254.29,313.80 L254.41,315.30 L254.54,316.64 L254.67,317.57 L254.80,317.90 L254.93,317.53 L255.06,316.51 L255.19,315.02 L255.31,313.38 L255.44,311.89 L255.57,310.87 L255.70,310.50 L255.82,310.72 L255.94,311.37 L256.07,312.35 L256.19,313.56 L256.31,314.84 L256.43,316.05 L256.56,317.03 L256.68,317.68 L256.80,317.90 L256.92,317.64 L257.04,316.91 L257.17,315.77 L257.29,314.39 L257.41,312.91 L257.53,311.52 L257.66,310.39 L257.78,309.66 L257.90,309.40 L258.02,309.54 L258.15,309.97 L258.27,310.64 L258.40,311.52 L258.52,312.55 L258.65,313.65 L258.77,314.75 L258.90,315.77 L259.02,316.66 L259.15,317.33 L259.27,317.76 L259.40,317.90 L259.53,317.67 L259.66,316.98 L259.79,315.92 L259.92,314.58 L260.05,313.10 L260.18,311.62 L260.31,310.28 L260.44,309.22 L260.57,308.53 L260.70,308.30 L260.83,308.40 L260.95,308.71 L261.08,309.22 L261.21,309.89 L261.33,310.70 L261.46,311.62 L261.59,312.60 L261.71,313.60 L261.84,314.58 L261.97,315.50 L262.09,316.31 L262.22,316.98 L262.35,317.49 L262.47,317.80 L262.60,317.90 L262.72,317.84 L262.84,317.65 L262.97,317.33 L263.09,316.90 L263.21,316.36 L263.33,315.73 L263.45,315.00 L263.57,314.20 L263.70,313.34 L263.82,312.44 L263.94,311.52 L264.06,310.58 L264.18,309.66 L264.30,308.76 L264.43,307.90 L264.55,307.10 L264.67,306.37 L264.79,305.74 L264.91,305.20 L265.03,304.77 L265.16,304.45 L265.28,304.26 L265.40,304.20 L265.52,304.22 L265.64,304.29 L265.76,304.40 L265.88,304.55 L266.00,304.75 L266.12,304.98 L266.24,305.26 L266.36,305.57 L266.48,305.92 L266.61,306.30 L266.73,306.72 L266.85,307.16 L266.97,307.62 L267.09,308.11 L267.21,308.62 L267.33,309.14 L267.45,309.68 L267.57,310.22 L267.69,310.77 L267.81,311.33 L267.93,311.88 L268.05,312.42 L268.17,312.96 L268.29,313.48 L268.41,313.99 L268.53,314.47 L268.65,314.94 L268.77,315.38 L268.89,315.80 L269.02,316.18 L269.14,316.53 L269.26,316.84 L269.38,317.12 L269.50,317.35 L269.62,317.55 L269.74,317.70 L269.86,317.81 L269.98,317.88 L270.10,317.90 L271.00,316.99 L271.65,315.89 L272.18,314.72 L272.67,313.54 L273.12,312.34 L273.55,311.13 L273.98,309.92 L274.43,308.72 L274.88,307.51 L275.32,306.31 L275.76,305.11 L276.21,303.91 L276.65,302.70 L277.08,301.50 L277.53,300.30 L277.98,299.10 L278.45,297.91 L278.94,296.72 L279.44,295.53 L279.97,294.37 L280.54,293.23 L281.15,292.09 L281.79,290.98 L282.47,289.89 L283.19,288.84 L283.96,287.80 L284.80,286.82 L285.69,285.92 L286.68,285.08 L287.74,284.34 L288.87,283.80 L290.08,283.32 L291.33,282.96 L292.58,282.75 L293.84,282.62 L295.13,282.51 L296.41,282.44 L297.70,282.40 L298.98,282.38 L300.26,282.36 L301.54,282.35 L302.82,282.35 L304.11,282.35 L305.39,282.35 L306.67,282.35 L307.95,282.35 L309.23,282.35 L310.51,282.35 L311.80,282.35 L313.08,282.35 L314.36,282.35 L315.64,282.35 L316.92,282.35 L318.20,282.35 L319.48,282.35 L320.77,282.35 L322.05,282.35 L323.33,282.35 L324.61,282.35 L325.89,282.35 L327.17,282.35 L328.45,282.35 L329.74,282.35 L331.02,282.35 L332.30,282.35 L333.58,282.35 L334.86,282.35 L336.14,282.35 L337.43,282.35 L338.71,282.35 L339.99,282.35 L341.27,282.35 L342.55,282.35 L343.83,282.35 L345.11,282.35 L346.40,282.35 L347.68,282.35 L348.96,282.35 L350.24,282.35 L351.52,282.35 L352.80,282.35 L354.08,282.35 L355.37,282.35 L356.65,282.35 L357.93,282.35 L359.21,282.35 L360.49,282.35 L361.77,282.35 L363.06,282.35 L364.34,282.35 L365.62,282.35 L366.90,282.35 L368.18,282.35 L369.46,282.35 L370.74,282.35 L372.03,282.35 L373.31,282.35 L374.59,282.35 L375.87,282.35 L377.15,282.35 L378.43,282.35 L379.71,282.35 L381.00,282.35 L382.28,282.35 L383.56,282.35 L384.84,282.35 L386.12,282.35 L387.40,282.35 L388.69,282.35 L389.97,282.35 L391.25,282.35 L392.53,282.35 L393.81,282.35 L395.09,282.35 L396.37,282.35 L397.66,282.35 L398.94,282.35 L400.22,282.35 L401.50,282.35" stroke="#f0f" stroke-width="1.12"/>
<path d="M31.0,38.2 H423.97999999999996" stroke="#000" stroke-width="1.6"/>
<path d="M31.0,319.55 H423.97999999999996" stroke="#000" stroke-width="1.5"/>
<path d="M31.8,38.2 V320.25" stroke="#000" stroke-width="1.6"/>
<path d="M423.2,38.2 V320.25" stroke="#000" stroke-width="1.55"/>
</g>
<path d="M37.8,17 h4.1 m2.95,0 h8.2 m3.0,0 h4.05" stroke="#f00" stroke-width="2.6" fill="none"/><path d="M70.70,3.4 V25.6 M85.40,3.4 L89.80,14.50 L85.40,25.6" stroke="#000" stroke-width="1.25" fill="none"/><text transform="translate(79.30,20.5) scale(1.0,1)" text-anchor="middle" class="kt" font-size="21.6" fill="#000" stroke="#000" stroke-width="0.3">1</text><path d="M102.6,15.8 H127.2" stroke="#0f0" stroke-width="1.6" fill="none"/><path d="M135.70,3.4 V25.6 M150.40,3.4 L154.80,14.50 L150.40,25.6" stroke="#000" stroke-width="1.25" fill="none"/><text transform="translate(144.30,20.5) scale(1.0,1)" text-anchor="middle" class="kt" font-size="21.6" fill="#000" stroke="#000" stroke-width="0.3">2</text><path d="M172.4,17 H197.2" stroke="#00f" stroke-width="2.5" fill="none"/><path d="M207.90,4.6 V27.0 M222.60,4.6 L227.00,15.80 L222.60,27.0" stroke="#000" stroke-width="1.25" fill="none"/><text transform="translate(216.50,21.6) scale(1.0,1)" text-anchor="middle" class="kt" font-size="21.6" fill="#000" stroke="#000" stroke-width="0.3">3</text><path d="M242.8,15.9 H267.4" stroke="#f0f" stroke-width="1.2" fill="none"/><path d="M275.20,3.4 V25.6 M289.90,3.4 L294.30,14.50 L289.90,25.6" stroke="#000" stroke-width="1.25" fill="none"/><text transform="translate(283.80,20.5) scale(1.0,1)" text-anchor="middle" class="kt" font-size="21.6" fill="#000" stroke="#000" stroke-width="0.3">4</text><path d="M310.1,15.75 H332.4" stroke="#0ff" stroke-width="2.6" stroke-dasharray="2.6 2.3" fill="none"/><path d="M341.45,4.6 V27.0 M356.15,4.6 L360.55,15.80 L356.15,27.0" stroke="#000" stroke-width="1.25" fill="none"/><text transform="translate(350.05,21.6) scale(1.0,1)" text-anchor="middle" class="kt" font-size="21.6" fill="#000" stroke="#000" stroke-width="0.3">5</text>
<g class="tl" font-size="16.8" fill="#000" style="filter:opacity(0.999)">
<path d="M22.55,29.2 h1.5 v11.7 h-1.5 v-9.0 q-1.4,1.3 -3.2,1.9 v-1.35 q2.2,-1.0 3.3,-3.25 z" fill="#000"/>
<text x="27.6" y="322.65" text-anchor="end">0</text>
<text x="33.5" y="336.55" text-anchor="middle">0</text>
<text x="420.6" y="336.4" text-anchor="middle">900</text>
</g>
<text x="244.9" y="350.45" text-anchor="middle" class="ax" style="filter:opacity(0.999)" font-size="21.8" fill="#000">time (ps)</text>
<text transform="translate(18.2,176.35) rotate(-90)" text-anchor="middle" class="ax" style="filter:opacity(0.999)" font-size="21.6" fill="#000">Population</text>
</svg>
</body></html>
